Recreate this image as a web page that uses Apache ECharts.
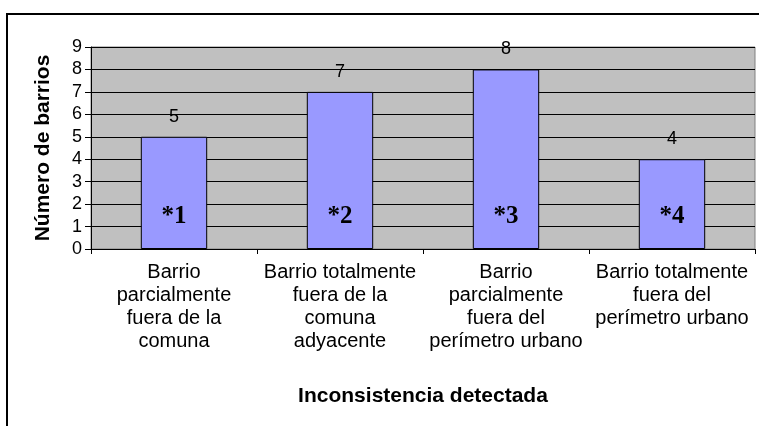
<!DOCTYPE html>
<html>

	<head>
		<meta charset="utf-8">
		<title>Inconsistencia detectada</title>
		<script src="https://cdn.jsdelivr.net/npm/echarts@6/dist/echarts.min.js"></script>
		<style>
			* {
				margin: 0;
				padding: 0
			}

			html,
			body {
				width: 100%;
				height: 100%;
				background: #fff;
			}

			#main {
				position: absolute;
				left: 0;
				top: 0;
				width: 759px;
				height: 426px;
			}

			/*marco exterior, solo arriba e izquierda se ven*/
			#marco {
				position: absolute;
				left: 6px;
				top: 13px;
				width: 800px;
				height: 500px;
				border-top: 2px solid #000;
				border-left: 2px solid #000;
			}
		</style>
	</head>

	<body>
		<div id="marco"></div>
		<div id="main"></div>

		<script>
			var categorias = [
				'Barrio\nparcialmente\nfuera de la\ncomuna',
				'Barrio totalmente\nfuera de la\ncomuna\nadyacente',
				'Barrio\nparcialmente\nfuera del\nperímetro urbano',
				'Barrio totalmente\nfuera del\nperímetro urbano'
			];
			var barrios = [5, 7, 8, 4];
			var marcas = ['*1', '*2', '*3', '*4'];
			var yMin = 0;
			var yMax = 9;
			var yPaso = 1;

			var myChart = echarts.init(document.getElementById('main'));

			myChart.setOption({
				animation: false,
				grid: {
					left: 91,
					right: 4,
					top: 47,
					bottom: 177,
					show: true,
					backgroundColor: '#C0C0C0',
					borderColor: '#808080',
					borderWidth: 1
				},
				xAxis: {
					type: 'category',
					data: categorias,
					name: 'Inconsistencia detectada',
					nameLocation: 'middle',
					nameGap: 137,
					nameTextStyle: {
						fontFamily: 'Liberation Sans',
						fontWeight: 'bold',
						fontSize: 21,
						color: '#000'
					},
					axisLine: {
						lineStyle: {
							color: '#000',
							width: 1
						}
					},
					axisTick: {
						show: true,
						length: 5,
						lineStyle: {
							color: '#000'
						}
					},
					axisLabel: {
						interval: 0,
						margin: 12,
						fontFamily: 'Liberation Sans',
						fontSize: 20,
						lineHeight: 23,
						color: '#000',
						align: 'center'
					}
				},
				yAxis: {
					type: 'value',
					min: yMin,
					max: yMax,
					interval: yPaso,
					name: 'Número de barrios',
					nameLocation: 'middle',
					nameGap: 37,
					nameTextStyle: {
						fontFamily: 'Liberation Sans',
						fontWeight: 'bold',
						fontSize: 21,
						color: '#000'
					},
					axisLine: {
						show: true,
						lineStyle: {
							color: '#000'
						}
					},
					axisTick: {
						show: true,
						length: 6,
						lineStyle: {
							color: '#000'
						}
					},
					axisLabel: {
						margin: 9,
						fontFamily: 'Liberation Sans',
						fontSize: 18,
						color: '#000'
					},
					splitLine: {
						show: true,
						lineStyle: {
							color: '#000',
							width: 1
						}
					}
				},
				series: [{
						// barras con la marca *n adentro
						type: 'bar',
						data: barrios,
						barWidth: '40%',
						itemStyle: {
							color: '#9999FF',
							borderColor: '#000',
							borderWidth: 1
						},
						label: {
							show: true,
							position: 'insideBottom',
							distance: 20,
							formatter: function(p) {
								return marcas[p.dataIndex];
							},
							fontFamily: 'Liberation Serif',
							fontWeight: 'bold',
							fontSize: 25,
							color: '#000'
						}
					},
					{
						// misma barra transparente, solo para el valor arriba
						type: 'bar',
						data: barrios,
						barWidth: '40%',
						barGap: '-100%',
						silent: true,
						itemStyle: {
							color: 'rgba(0,0,0,0)'
						},
						label: {
							show: true,
							position: 'top',
							distance: 11,
							fontFamily: 'Liberation Sans',
							fontSize: 18,
							color: '#000'
						}
					}
				]
			});
		</script>
	</body>

</html>
